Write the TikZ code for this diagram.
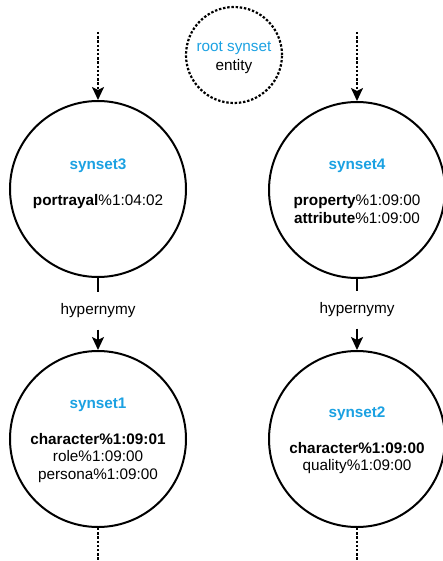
\documentclass[tikz,border=0pt]{standalone}
\usepackage{fontspec}
\setmainfont{Liberation Sans}
\usetikzlibrary{arrows.meta}
\definecolor{synblue}{RGB}{27,161,226}
\begin{document}
\begin{tikzpicture}[x=1pt,y=-1pt,
  syn/.style={draw, circle, line width=2pt, minimum size=176pt, inner sep=0pt},
  rootc/.style={draw, circle, line width=2.2pt, dash pattern=on 2.4pt off 1.8pt, minimum size=96pt, inner sep=0pt},
  txt/.style={align=center, font=\fontsize{15.3}{17.5}\selectfont, inner sep=0pt},
  rel/.style={font=\fontsize{15.3}{17.5}\selectfont, fill=white, minimum height=37pt, inner sep=0pt},
  edge/.style={line width=2pt},
  arr/.style={line width=2pt, -{Stealth[length=13pt,width=12pt,inset=3pt]}},
  dots/.style={line width=2.2pt, dash pattern=on 2.4pt off 1.8pt},
  dotarr/.style={dots, -{Stealth[length=13pt,width=12pt,inset=3pt]}}]
\useasboundingbox (0,0) rectangle (442,561);
% circles
\node[rootc] (root) at (234,55) {};
\node[syn] (s3) at (98,189) {};
\node[syn] (s4) at (357,190) {};
\node[syn] (s1) at (98,439) {};
\node[syn] (s2) at (357,439) {};
% texts
\node[txt] (rootT) at (234,57.5) {\textcolor{synblue}{root synset}\\[1.5pt]entity};
\node[txt] (s3T) at (98,183.5) {\textcolor{synblue}{\bfseries synset3}\\[18.5pt]\textbf{portrayal}\%1:04:02};
\node[txt] (s4T) at (357,191.5) {\textcolor{synblue}{\bfseries synset4}\\[18.5pt]\textbf{property}\%1:09:00\\\textbf{attribute}\%1:09:00};
\node[txt] (s1T) at (98,440) {\textcolor{synblue}{\bfseries synset1}\\[18.5pt]\textbf{character\%1:09:01}\\role\%1:09:00\\persona\%1:09:00};
\node[txt] (s2T) at (357,440) {\textcolor{synblue}{\bfseries synset2}\\[18.5pt]\textbf{character\%1:09:00}\\quality\%1:09:00};
% relation labels
\node[rel] (h1) at (98,311) {hypernymy};
\node[rel] (h2) at (357,310) {hypernymy};
% free ends
\coordinate (t3) at (98,32);
\coordinate (t4) at (357,32);
\coordinate (b1) at (98,561);
\coordinate (b2) at (357,561);
% connectors
\draw[dotarr] (t3) -- (s3.north);
\draw[dotarr] (t4) -- (s4.north);
\draw[edge] (s3.south) -- (h1.north);
\draw[arr] (h1.south) -- (s1.north);
\draw[edge] (s4.south) -- (h2.north);
\draw[arr] (h2.south) -- (s2.north);
\draw[dots] (s1.south) -- (b1);
\draw[dots] (s2.south) -- (b2);
\end{tikzpicture}
\end{document}
